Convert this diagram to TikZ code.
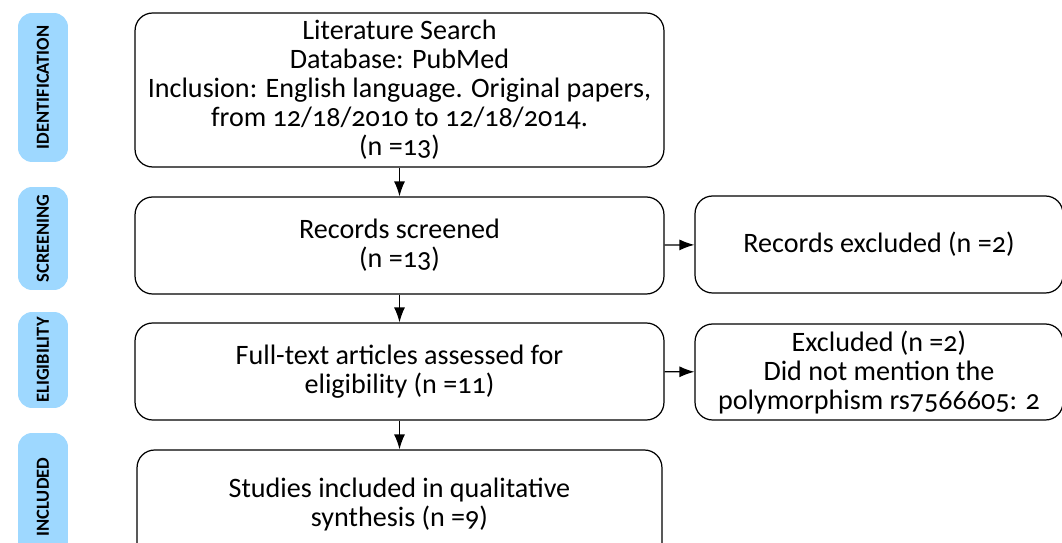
\documentclass[tikz,border=0pt]{standalone}
\usepackage{fontspec}
\setmainfont{Carlito}[Numbers=OldStyle]
\usetikzlibrary{arrows.meta}
\definecolor{stageblue}{RGB}{158,216,255}
\tikzstyle{stage}=[fill=stageblue, rounded corners=8pt, inner sep=0pt, rotate=90, minimum height=1cm, font=\fontsize{10.5}{12}\selectfont\bfseries]
\tikzstyle{box}=[draw, line width=0.7pt, rounded corners=10pt, inner sep=2pt, align=center, font=\fontsize{16}{16.5}\selectfont]
\tikzstyle{flow}=[-{Latex[length=0.3cm, width=0.22cm]}, line width=0.7pt]

\begin{document}
\begin{tikzpicture}[x=0.02cm, y=-0.02cm]
    \useasboundingbox (0, 0) rectangle (1062, 543);
    \node[stage, minimum width=2.98cm] (ident) at (43, 87.5) {IDENTIFICATION};
    \node[stage, minimum width=2.06cm] (screening) at (43, 238.5) {SCREENING};
    \node[stage, minimum width=1.92cm] (eligibility) at (43, 360) {ELIGIBILITY};
    \node[stage, minimum width=2.56cm] (included) at (43, 497) {INCLUDED};
    \node[box, minimum width=10.58cm, minimum height=3.08cm] (search) at (399.5, 90) {Literature Search\\Database: PubMed\\Inclusion: English language. Original papers,\\from 12/18/2010 to 12/18/2014.\\(n =13)};
    \node[box, minimum width=10.58cm, minimum height=1.94cm] (screened) at (399.5, 245.5) {Records screened\\(n =13)};
    \node[box, minimum width=10.58cm, minimum height=1.94cm] (fulltext) at (399.5, 371.5) {Full-text articles assessed for\\eligibility (n =11)};
    \node[box, minimum width=10.5cm, minimum height=2.2cm] (studies) at (399.5, 505) {Studies included in qualitative\\synthesis (n =9)};
    \node[box, minimum width=7.36cm, minimum height=1.94cm] (recexcl) at (879, 244.5) {Records excluded (n =2)};
    \node[box, minimum width=7.36cm, minimum height=1.92cm] (excl) at (879, 372) {Excluded (n =2)\\Did not mention the\\polymorphism rs7566605: 2};
    \draw[flow] (search) -- (screened);
    \draw[flow] (screened) -- (fulltext);
    \draw[flow] (fulltext) -- (studies);
    \draw[flow] (screened) -- (recexcl);
    \draw[flow] (fulltext) -- (excl);
\end{tikzpicture}
\end{document}
